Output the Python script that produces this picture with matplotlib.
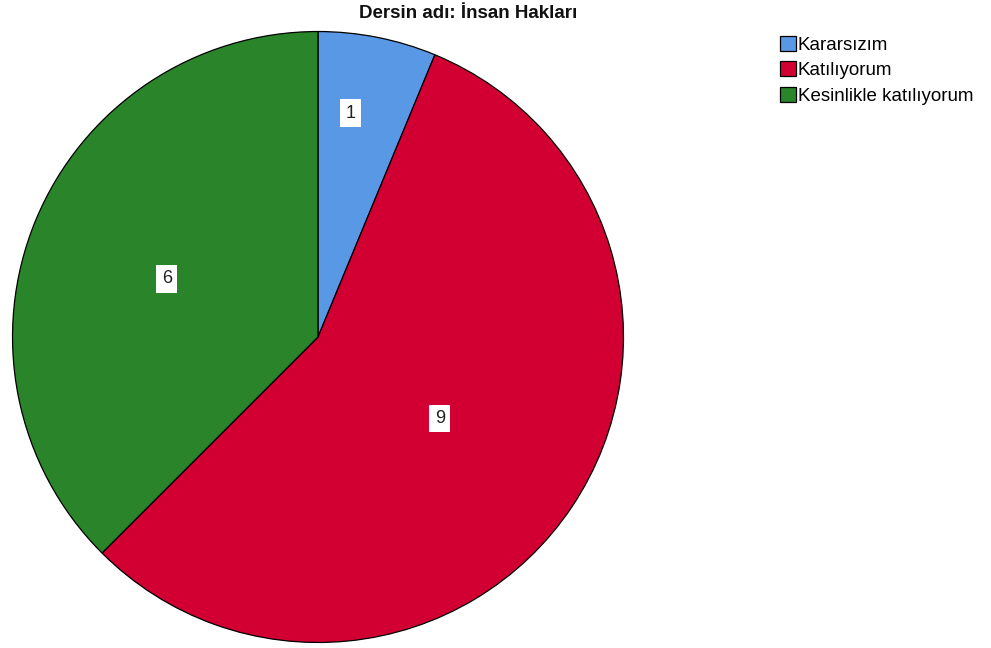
import numpy as np
import matplotlib.pyplot as plt

plt.rcParams['font.family'] = ['Liberation Sans', 'DejaVu Sans']

# Dersin adı: İnsan Hakları - answer counts
categories = ['Kararsızım', 'Katılıyorum', 'Kesinlikle katılıyorum']
counts = [1, 9, 6]
colors = ['#5898e4', '#d20032', '#2a842a']
label_dist = [0.74, 0.48, 0.53]
label_shift = [3.0, 0.0, 1.5]   # small angular nudges, degrees

fig = plt.figure(figsize=(9.91, 6.48), dpi=100)
W, H = 991, 648
cx, cy, r = 318, 337, 307
ax = fig.add_axes([(cx - r) / W, (H - cy - r) / H, 2 * r / W, 2 * r / H])

wedges, _ = ax.pie(counts, colors=colors, startangle=90, counterclock=False,
                   radius=1, wedgeprops=dict(edgecolor='black', linewidth=0.9))
ax.set_xlim(-1.005, 1.005)
ax.set_ylim(-1.005, 1.005)
ax.set_aspect('equal')
ax.axis('off')

for w, n, d, s in zip(wedges, counts, label_dist, label_shift):
    ang = np.deg2rad((w.theta1 + w.theta2) / 2 + s)
    ax.text(d * np.cos(ang), d * np.sin(ang), str(n), ha='center', va='center',
            fontsize=13, color='#222222',
            bbox=dict(boxstyle='square,pad=0.3', facecolor='white', edgecolor='none'))

fig.text(468 / W, 1 - 14 / H, 'Dersin adı: İnsan Hakları', ha='center', va='center',
         fontsize=13.5, fontweight='bold', color='#111111')

fig.legend(wedges, categories, loc='upper left', bbox_to_anchor=(780 / W, 1 - 36 / H),
           frameon=False, fontsize=13.5, handlelength=0.85, handleheight=0.85,
           handletextpad=0.1, labelspacing=0.39, borderaxespad=0, borderpad=0)

plt.savefig('out.png', dpi=100)
